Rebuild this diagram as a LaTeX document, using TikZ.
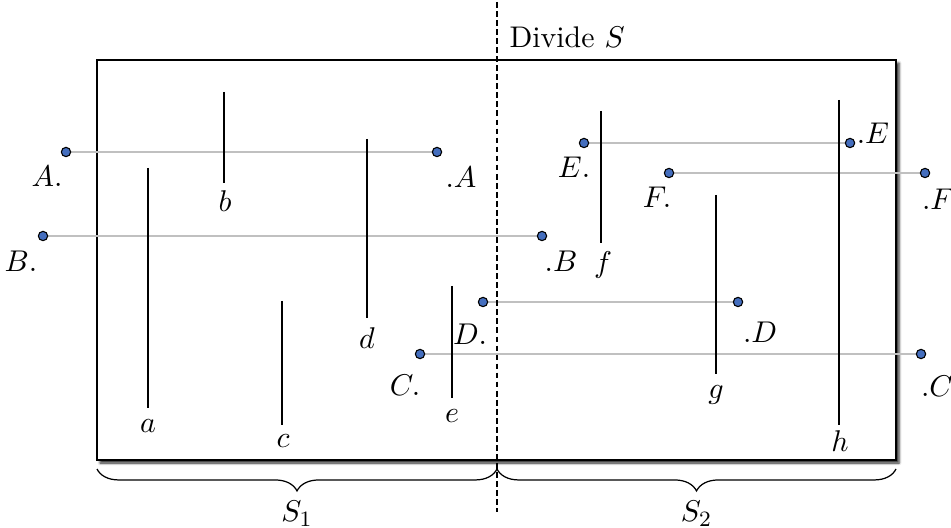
\documentclass[tikz,border=0pt]{standalone}
\usetikzlibrary{shadows.blur,decorations.pathreplacing}
\definecolor{dotblue}{RGB}{68,110,190}
\definecolor{linegray}{RGB}{192,192,192}
\tikzset{
  dotpt/.style={circle,draw=black,fill=dotblue,line width=0.4pt,inner sep=0pt,minimum size=3.4pt},
  pairline/.style={draw=linegray,line width=0.4pt},
  seg/.style={draw=black,line width=0.6pt},
  lab/.style={inner sep=0pt},
  regionbox/.style={draw=black,line width=0.6pt,fill=white,blur shadow={shadow xshift=1.1pt,shadow yshift=-1.1pt,shadow blur steps=4,shadow blur radius=0.9pt,shadow opacity=85}},
  bracestyle/.style={draw=black,line width=0.45pt,decorate,decoration={brace,mirror,amplitude=8pt}},
  every node/.style={font=\fontsize{10.9pt}{13pt}\selectfont},
}
\begin{document}
\begin{tikzpicture}[x=0.365pt,y=-0.365pt]
\useasboundingbox (0,0) rectangle (951,528);
% region box
\path[regionbox] (97,60) rectangle (896,460);
% point coordinates
\coordinate (Al) at (66,152);  \coordinate (Ar) at (437,152);
\coordinate (Bl) at (43,236);  \coordinate (Br) at (542,236);
\coordinate (El) at (584,143); \coordinate (Er) at (850,143);
\coordinate (Fl) at (669,173); \coordinate (Fr) at (925,173);
\coordinate (Dl) at (483,302); \coordinate (Dr) at (738,302);
\coordinate (Cl) at (420,354); \coordinate (Cr) at (921,354);
% gray connecting lines
\draw[pairline] (Al) -- (Ar);
\draw[pairline] (Bl) -- (Br);
\draw[pairline] (El) -- (Er);
\draw[pairline] (Fl) -- (Fr);
\draw[pairline] (Dl) -- (Dr);
\draw[pairline] (Cl) -- (Cr);
% segments
\coordinate (a1) at (148,168); \coordinate (a2) at (148,408);
\coordinate (b1) at (224,92);  \coordinate (b2) at (224,183);
\coordinate (c1) at (282,301); \coordinate (c2) at (282,425);
\coordinate (d1) at (367,139); \coordinate (d2) at (367,318);
\coordinate (e1) at (452,286); \coordinate (e2) at (452,398);
\coordinate (f1) at (601,111); \coordinate (f2) at (601,243);
\coordinate (g1) at (716,195); \coordinate (g2) at (716,374);
\coordinate (h1) at (839,100); \coordinate (h2) at (839,425);
\draw[seg] (a1) -- (a2);
\draw[seg] (b1) -- (b2);
\draw[seg] (c1) -- (c2);
\draw[seg] (d1) -- (d2);
\draw[seg] (e1) -- (e2);
\draw[seg] (f1) -- (f2);
\draw[seg] (g1) -- (g2);
\draw[seg] (h1) -- (h2);
\node[lab] (la) at (148,426) {$a$};
\node[lab] (lb) at (225,201) {$b$};
\node[lab] (lc) at (283,441) {$c$};
\node[lab] (ld) at (367,338) {$d$};
\node[lab] (le) at (452,416) {$e$};
\node[lab] (lf) at (603,265) {$f$};
\node[lab] (lg) at (716,395) {$g$};
\node[lab] (lh) at (840,441) {$h$};
% dots
\foreach \p in {Al,Ar,Bl,Br,El,Er,Fl,Fr,Dl,Dr,Cl,Cr}
  \node[dotpt] (n\p) at (\p) {};
% point labels
\node[lab] (tAl) at (47,176) {$A.$};
\node[lab] (tAr) at (461,177) {$.A$};
\node[lab] (tBl) at (21,261) {$B.$};
\node[lab] (tBr) at (561,261) {$.B$};
\node[lab] (tEl) at (574,167) {$E.$};
\node[lab] (tEr) at (873,133) {$.E$};
\node[lab] (tFl) at (657,197) {$F.$};
\node[lab] (tFr) at (938,199) {$.F$};
\node[lab] (tDl) at (470,334) {$D.$};
\node[lab] (tDr) at (760,332) {$.D$};
\node[lab] (tCl) at (405,385) {$C.$};
\node[lab] (tCr) at (937,386) {$.C$};
% divider
\coordinate (dtop) at (497,2);
\coordinate (dbot) at (497,512);
\draw[black,line width=0.45pt,dash pattern=on 2.1pt off 1.2pt] (dtop) -- (dbot);
\node[lab,anchor=west] (divlab) at (509,37) {Divide $S$};
% braces
\coordinate (b1l) at (97,469); \coordinate (b1r) at (497,469);
\coordinate (b2l) at (497,469); \coordinate (b2r) at (896,469);
\draw[bracestyle] (b1l) -- (b1r) node[midway,below=11.5pt,lab] (s1) {$S_1$};
\draw[bracestyle] (b2l) -- (b2r) node[midway,below=11.5pt,lab] (s2) {$S_2$};
\end{tikzpicture}
\end{document}
